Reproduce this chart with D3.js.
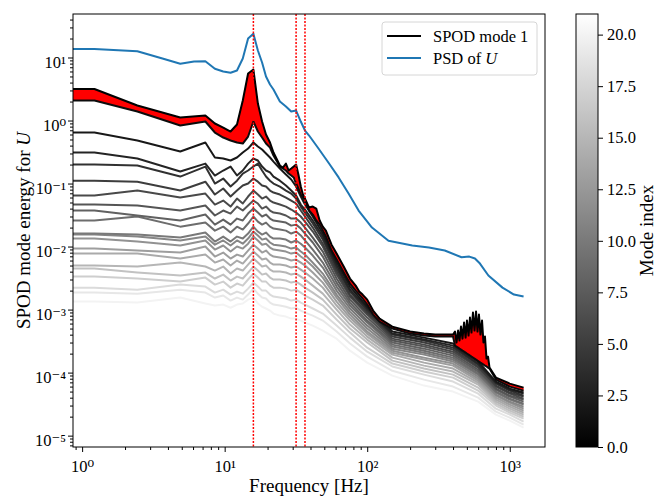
<!DOCTYPE html>
<html>
<head>
<meta charset="utf-8">
<script src="https://cdn.jsdelivr.net/npm/d3@7"></script>
<style>
  body { margin: 0; background: white; }
  svg { display: block; }
</style>
</head>
<body>
<svg></svg>
<script>
// Frequencies (Hz) shared by modes 2..20; 0 is the mean bin
const freqGrid = [0, 1.22, 2.44, 4.88, 7.32, 8.54, 9.77, 11.0, 12.2, 13.4, 14.6, 15.9, 17.1, 18.3, 19.5, 20.8, 22.0, 24.4, 26.9, 29.3, 31.7, 34.2, 36.6, 41.5, 48.8, 61.0, 75.7, 100, 150, 250, 400, 600, 800, 1000, 1250]

// Frequencies (Hz) for the two leading modes (denser, they carry the peaks)
const freqTop = [0, 1.22, 2.44, 4.88, 7.32, 8.54, 9.77, 11.0, 12.2, 13.4, 14.6, 15.9, 17.1, 18.3, 19.5, 20.8, 22.0, 24.4, 25.6, 26.9, 28.1, 29.3, 30.5, 31.7, 32.9, 34.2, 35.4, 36.6, 39.1, 41.5, 43.9, 46.4, 48.8, 51.3, 56.2, 61.0, 68.4, 75.7, 83.0, 87.9, 92.8, 100, 110, 122, 150, 200, 250, 300, 350, 400, 413, 423, 434, 444, 455, 466, 478, 490, 501, 514, 526, 539, 552, 566, 580, 594, 608, 623, 639, 654, 670, 687, 704, 721, 800, 1000, 1250]

const mode0 = [3.16, 3.16, 1.73, 1.12, 1.2, 0.896, 0.774, 0.669, 0.864, 2.08, 5.57, 6.45, 1.86, 0.964, 0.6, 0.448, 0.311, 0.193, 0.179, 0.207, 0.161, 0.173, 0.186, 0.2, 0.139, 0.0896, 0.0669, 0.0578, 0.0416, 0.0431, 0.0401, 0.0259, 0.0207, 0.0179, 0.0107, 7.74e-3, 4.82e-3, 3.11e-3, 2.4e-3, 1.93e-3, 1.73e-3, 1.44e-3, 9.64e-4, 7.2e-4, 5.37e-4, 4.48e-4, 4.16e-4, 4.01e-4, 4.01e-4, 4.01e-4,
    4.48e-4, 3.0e-4, 4.64e-4, 3.22e-4, 5.37e-4, 3.46e-4, 6.22e-4, 3.59e-4, 6.69e-4, 3.87e-4, 7.46e-4, 4.31e-4, 8.96e-4, 4.64e-4, 9.29e-4, 4.48e-4, 8.33e-4, 4.01e-4, 6.69e-4, 3.0e-4, 3.73e-4, 1.67e-4, 1.79e-4, 1.2e-4,
    8.33e-5, 6.69e-5, 5.78e-5]
const mode1 = [2.08, 2.08, 1.39, 0.833, 0.964, 0.645, 0.537, 0.482, 0.448, 0.431, 0.557, 0.964, 0.669, 0.537, 0.431, 0.373, 0.278, 0.186, 0.173, 0.161, 0.144, 0.134, 0.125, 0.1, 0.0833, 0.0669, 0.06, 0.0537, 0.0373, 0.0322, 0.0259, 0.0223, 0.0179, 0.0144, 8.64e-3, 6.22e-3, 3.87e-3, 2.59e-3, 2.0e-3, 1.73e-3, 1.5e-3, 1.2e-3, 8.33e-4, 6.45e-4, 5.0e-4, 4.16e-4, 3.87e-4, 3.73e-4, 3.73e-4, 3.73e-4,
    2.68e-4, 2.59e-4, 2.49e-4, 2.4e-4, 2.32e-4, 2.23e-4, 2.15e-4, 2.07e-4, 2.0e-4, 1.93e-4, 1.86e-4, 1.79e-4, 1.73e-4, 1.67e-4, 1.61e-4, 1.55e-4, 1.5e-4, 1.44e-4, 1.39e-4, 1.34e-4, 1.29e-4, 1.25e-4, 1.2e-4, 1.16e-4,
    7.74e-5, 6.0e-5, 5.18e-5]

const mode2 = [6.45e-1, 6.45e-1, 4.82e-1, 3.22e-1, 4.48e-1, 2.59e-1, 2.49e-1, 2.32e-1, 2.59e-1, 3.11e-1, 3.59e-1, 4.48e-1, 3.87e-1, 3.46e-1, 3.0e-1, 2.59e-1, 2.23e-1, 1.73e-1, 1.39e-1, 1.16e-1, 8.96e-2, 6.22e-2, 4.64e-2, 3.0e-2, 1.61e-2, 5.57e-3, 2.32e-3, 1.11e-3, 4.48e-4, 3.59e-4, 2.89e-4, 1.5e-4, 7.2e-5, 5.57e-5, 4.82e-5]
const mode3 = [3.11e-1, 3.11e-1, 2.49e-1, 1.55e-1, 2.07e-1, 1.34e-1, 1.61e-1, 1.86e-1, 1.34e-1, 1.61e-1, 2.07e-1, 2.49e-1, 2.32e-1, 1.86e-1, 1.61e-1, 1.5e-1, 1.29e-1, 1.11e-1, 9.29e-2, 7.74e-2, 6.45e-2, 4.64e-2, 3.87e-2, 2.59e-2, 1.44e-2, 5.0e-3, 2.07e-3, 1.04e-3, 4.16e-4, 3.34e-4, 2.68e-4, 1.39e-4, 6.94e-5, 5.37e-5, 4.64e-5]
const mode4 = [2.0e-1, 2.0e-1, 1.93e-1, 1.29e-1, 1.86e-1, 1.0e-1, 1.2e-1, 8.96e-2, 1.11e-1, 1.44e-1, 1.61e-1, 1.86e-1, 2.07e-1, 1.61e-1, 1.29e-1, 1.11e-1, 1.0e-1, 8.96e-2, 7.74e-2, 6.94e-2, 5.78e-2, 4.31e-2, 3.46e-2, 2.32e-2, 1.29e-2, 4.48e-3, 1.93e-3, 9.64e-4, 4.01e-4, 3.22e-4, 2.49e-4, 1.34e-4, 6.69e-5, 5.18e-5, 4.31e-5]
const mode5 = [1.11e-1, 1.11e-1, 1.07e-1, 7.74e-2, 1.07e-1, 6.69e-2, 8.33e-2, 6.22e-2, 7.74e-2, 9.29e-2, 1.0e-1, 1.2e-1, 1.07e-1, 9.29e-2, 8.96e-2, 7.74e-2, 7.2e-2, 6.69e-2, 6.0e-2, 5.37e-2, 4.82e-2, 3.73e-2, 3.0e-2, 2.0e-2, 1.11e-2, 4.01e-3, 1.73e-3, 8.96e-4, 3.73e-4, 3.0e-4, 2.32e-4, 1.25e-4, 6.22e-5, 4.82e-5, 4.16e-5]
const mode6 = [6.45e-2, 6.45e-2, 7.74e-2, 6.0e-2, 6.94e-2, 4.64e-2, 5.37e-2, 4.31e-2, 5.78e-2, 4.82e-2, 6.22e-2, 7.74e-2, 6.69e-2, 5.78e-2, 6.22e-2, 5.37e-2, 5.0e-2, 4.64e-2, 4.31e-2, 3.87e-2, 3.46e-2, 3.0e-2, 2.49e-2, 1.73e-2, 1.0e-2, 3.59e-3, 1.61e-3, 8.33e-4, 3.46e-4, 2.78e-4, 2.15e-4, 1.2e-4, 6.0e-5, 4.64e-5, 3.87e-5]
const mode7 = [4.64e-2, 4.64e-2, 4.48e-2, 3.73e-2, 4.48e-2, 3.11e-2, 3.73e-2, 3.34e-2, 4.31e-2, 3.73e-2, 4.48e-2, 5.37e-2, 4.82e-2, 4.01e-2, 4.31e-2, 3.73e-2, 3.46e-2, 3.34e-2, 3.11e-2, 2.78e-2, 2.78e-2, 2.4e-2, 2.0e-2, 1.39e-2, 8.33e-3, 3.11e-3, 1.44e-3, 7.46e-4, 3.22e-4, 2.59e-4, 2.0e-4, 1.11e-4, 5.57e-5, 4.31e-5, 3.73e-5]
const mode8 = [3.73e-2, 3.73e-2, 3.11e-2, 2.59e-2, 3.22e-2, 2.23e-2, 2.68e-2, 2.23e-2, 2.78e-2, 2.59e-2, 3.34e-2, 4.01e-2, 3.46e-2, 3.0e-2, 3.22e-2, 2.78e-2, 2.59e-2, 2.49e-2, 2.4e-2, 2.15e-2, 2.23e-2, 1.93e-2, 1.61e-2, 1.16e-2, 6.94e-3, 2.68e-3, 1.29e-3, 6.69e-4, 3.0e-4, 2.4e-4, 1.86e-4, 1.04e-4, 5.37e-5, 4.16e-5, 3.46e-5]
const mode9 = [2.59e-2, 2.59e-2, 3.0e-2, 2.07e-2, 2.4e-2, 1.79e-2, 2.07e-2, 1.67e-2, 2.07e-2, 1.86e-2, 2.32e-2, 3.0e-2, 2.49e-2, 2.23e-2, 2.4e-2, 2.07e-2, 1.93e-2, 1.86e-2, 1.79e-2, 1.61e-2, 1.73e-2, 1.5e-2, 1.25e-2, 8.96e-3, 5.57e-3, 2.32e-3, 1.16e-3, 6.22e-4, 2.78e-4, 2.23e-4, 1.73e-4, 9.64e-5, 5.0e-5, 3.87e-5, 3.22e-5]
const mode10 = [1.61e-2, 1.61e-2, 1.55e-2, 1.39e-2, 1.67e-2, 1.2e-2, 1.44e-2, 1.2e-2, 1.44e-2, 1.34e-2, 1.61e-2, 2.07e-2, 1.73e-2, 1.55e-2, 1.67e-2, 1.44e-2, 1.34e-2, 1.34e-2, 1.29e-2, 1.16e-2, 1.25e-2, 1.11e-2, 9.64e-3, 7.2e-3, 4.64e-3, 2.0e-3, 1.04e-3, 5.57e-4, 2.59e-4, 2.07e-4, 1.61e-4, 9.29e-5, 4.82e-5, 3.73e-5, 3.11e-5]
const mode11 = [1.55e-2, 1.55e-2, 1.44e-2, 1.25e-2, 1.44e-2, 1.07e-2, 1.25e-2, 1.04e-2, 1.25e-2, 1.11e-2, 1.34e-2, 1.73e-2, 1.5e-2, 1.29e-2, 1.34e-2, 1.16e-2, 1.07e-2, 1.04e-2, 1.0e-2, 9.29e-3, 9.64e-3, 8.33e-3, 7.46e-3, 5.57e-3, 3.73e-3, 1.73e-3, 9.29e-4, 5.0e-4, 2.4e-4, 1.93e-4, 1.5e-4, 8.64e-5, 4.48e-5, 3.46e-5, 2.89e-5]
const mode12 = [1.34e-2, 1.34e-2, 1.2e-2, 1.04e-2, 1.25e-2, 8.96e-3, 1.04e-2, 8.33e-3, 1.0e-2, 9.29e-3, 1.11e-2, 1.44e-2, 1.25e-2, 1.07e-2, 1.11e-2, 9.64e-3, 8.96e-3, 8.64e-3, 8.33e-3, 7.74e-3, 8.03e-3, 6.94e-3, 6.22e-3, 4.82e-3, 3.22e-3, 1.55e-3, 8.33e-4, 4.48e-4, 2.23e-4, 1.73e-4, 1.39e-4, 8.03e-5, 4.31e-5, 3.34e-5, 2.68e-5]
const mode13 = [9.29e-3, 9.29e-3, 8.64e-3, 8.03e-3, 1.0e-2, 6.94e-3, 8.03e-3, 6.45e-3, 7.46e-3, 6.94e-3, 8.64e-3, 1.07e-2, 9.29e-3, 8.03e-3, 8.64e-3, 7.46e-3, 6.94e-3, 6.69e-3, 6.45e-3, 6.0e-3, 6.22e-3, 5.57e-3, 5.0e-3, 3.87e-3, 2.68e-3, 1.34e-3, 7.46e-4, 4.16e-4, 2.07e-4, 1.61e-4, 1.29e-4, 7.46e-5, 4.01e-5, 3.11e-5, 2.49e-5]
const mode14 = [7.74e-3, 7.74e-3, 7.74e-3, 6.45e-3, 7.46e-3, 5.57e-3, 6.22e-3, 5.0e-3, 6.0e-3, 5.37e-3, 6.69e-3, 8.33e-3, 7.2e-3, 6.22e-3, 6.45e-3, 5.57e-3, 5.18e-3, 5.18e-3, 5.0e-3, 4.64e-3, 4.82e-3, 4.31e-3, 3.87e-3, 3.11e-3, 2.23e-3, 1.16e-3, 6.69e-4, 3.73e-4, 1.93e-4, 1.44e-4, 1.16e-4, 6.94e-5, 3.73e-5, 2.89e-5, 2.32e-5]
const mode15 = [5.0e-3, 5.0e-3, 4.82e-3, 5.57e-3, 4.82e-3, 4.16e-3, 4.82e-3, 3.73e-3, 4.48e-3, 4.16e-3, 5.18e-3, 6.45e-3, 5.57e-3, 4.82e-3, 5.0e-3, 4.31e-3, 4.01e-3, 4.01e-3, 3.87e-3, 3.59e-3, 3.73e-3, 3.34e-3, 3.0e-3, 2.4e-3, 1.79e-3, 1.0e-3, 5.78e-4, 3.34e-4, 1.73e-4, 1.29e-4, 1.04e-4, 6.45e-5, 3.46e-5, 2.68e-5, 2.15e-5]
const mode16 = [4.48e-3, 4.48e-3, 3.87e-3, 3.46e-3, 3.87e-3, 3.11e-3, 3.59e-3, 2.89e-3, 3.34e-3, 3.11e-3, 3.87e-3, 4.82e-3, 4.16e-3, 3.59e-3, 3.73e-3, 3.22e-3, 3.0e-3, 3.0e-3, 2.89e-3, 2.68e-3, 2.78e-3, 2.49e-3, 2.23e-3, 1.86e-3, 1.44e-3, 8.33e-4, 5.0e-4, 3.0e-4, 1.55e-4, 1.16e-4, 9.29e-5, 5.78e-5, 3.22e-5, 2.49e-5, 2.0e-5]
const mode17 = [3.34e-3, 3.34e-3, 3.11e-3, 2.78e-3, 3.22e-3, 2.49e-3, 2.78e-3, 2.23e-3, 2.59e-3, 2.4e-3, 3.0e-3, 3.73e-3, 3.22e-3, 2.78e-3, 2.78e-3, 2.4e-3, 2.23e-3, 2.23e-3, 2.15e-3, 2.0e-3, 2.07e-3, 1.86e-3, 1.67e-3, 1.44e-3, 1.16e-3, 6.94e-4, 4.31e-4, 2.49e-4, 1.39e-4, 1.04e-4, 8.33e-5, 5.18e-5, 3.0e-5, 2.32e-5, 1.86e-5]
const mode18 = [2.23e-3, 2.23e-3, 2.07e-3, 2.49e-3, 2.32e-3, 1.86e-3, 2.07e-3, 1.73e-3, 1.93e-3, 1.79e-3, 2.15e-3, 2.68e-3, 2.32e-3, 2.0e-3, 2.0e-3, 1.73e-3, 1.61e-3, 1.55e-3, 1.5e-3, 1.39e-3, 1.44e-3, 1.29e-3, 1.2e-3, 1.04e-3, 8.64e-4, 5.57e-4, 3.59e-4, 2.15e-4, 1.25e-4, 9.29e-5, 7.2e-5, 4.64e-5, 2.68e-5, 2.15e-5, 1.67e-5]
const mode19 = [1.86e-3, 1.86e-3, 1.79e-3, 2.07e-3, 1.86e-3, 1.55e-3, 1.67e-3, 1.39e-3, 1.55e-3, 1.44e-3, 1.73e-3, 2.15e-3, 1.79e-3, 1.55e-3, 1.5e-3, 1.29e-3, 1.2e-3, 1.16e-3, 1.11e-3, 1.04e-3, 1.07e-3, 9.64e-4, 8.96e-4, 8.03e-4, 6.69e-4, 4.48e-4, 2.89e-4, 1.79e-4, 1.07e-4, 7.74e-5, 6.0e-5, 4.01e-5, 2.4e-5, 1.93e-5, 1.5e-5]
const mode20 = [1.34e-3, 1.34e-3, 1.29e-3, 1.55e-3, 1.25e-3, 1.16e-3, 1.2e-3, 1.07e-3, 1.2e-3, 1.25e-3, 1.44e-3, 1.55e-3, 1.25e-3, 1.11e-3, 1.04e-3, 9.64e-4, 8.64e-4, 8.03e-4, 7.74e-4, 7.2e-4, 7.2e-4, 6.69e-4, 6.22e-4, 5.57e-4, 4.64e-4, 3.46e-4, 2.23e-4, 1.44e-4, 8.96e-5, 6.22e-5, 5.0e-5, 3.46e-5, 2.15e-5, 1.73e-5, 1.34e-5]

// PSD of U
const freqPsd = [0, 1.22, 2.44, 3.66, 4.88, 6.10, 7.32, 8.54, 9.77, 11.0, 12.2, 13.4, 14.6, 15.9, 17.1, 18.3, 19.5, 20.8, 22.0, 24.4, 26.9, 29.3, 31.7, 34.2, 36.6, 39.1, 45.0, 54.0, 63.0, 74.0, 87.0, 108, 141, 207, 271, 350, 459, 520, 570, 618, 708, 889, 1070, 1250]
const psdU = [13.7, 13.7, 12.6, 9.64, 7.94, 8.64, 8.74, 6.62, 6.0, 5.72, 6.22, 9.64, 20.0, 23.8, 12.9, 8.33, 4.99, 3.73, 3.1, 2.0, 1.67, 1.39, 1.44, 0.964, 0.694, 0.578, 0.373, 0.208, 0.125, 0.0694, 0.0373, 0.02, 0.0124, 0.0104, 0.00964, 0.00865, 0.00676, 0.00693, 0.00645, 0.00537, 0.00347, 0.00223, 0.00173, 0.00161]

// marked frequencies (red dotted lines)
const markFreqs = [15.9, 31.7, 36.6]

// axes ticks
const xMajor = [1, 10, 100, 1000]
const yMajor = [1e-5, 1e-4, 1e-3, 1e-2, 1e-1, 1, 10]
const cbTicks = [0, 2.5, 5, 7.5, 10, 12.5, 15, 17.5, 20]

const width = 657
const height = 501
const serif = '"Liberation Serif", "DejaVu Serif", serif'

const svg = d3.select("svg")
    .attr("width", width)
    .attr("height", height)
    .attr("font-family", serif)

const margin = { top: 14, right: 112, bottom: 54, left: 73 }
const innerWidth = width - margin.left - margin.right
const innerHeight = height - margin.top - margin.bottom

// Scales
const xScale = d3.scaleLog().domain([0.863, 1767]).range([0, innerWidth])
const yScale = d3.scaleLog().domain([6.6e-6, 49]).range([innerHeight, 0])
const colorScale = d3.scaleLinear().domain([0, 21]).range(["#000000", "#ffffff"])

// zero frequency goes off to the left, like matplotlib clipping it
const xPos = f => f > 0 ? xScale(f) : -3

const g = svg.append("g")
    .attr("transform", `translate(${margin.left}, ${margin.top})`)

const defs = svg.append("defs")
defs.append("clipPath").attr("id", "clip")
    .append("rect").attr("width", innerWidth).attr("height", innerHeight)

const plot = g.append("g").attr("clip-path", "url(#clip)")

const lineFor = freqs => d3.line()
    .x((d, i) => xPos(freqs[i]))
    .y(d => yScale(d))

// Gray modes, lightest first so dark ones stay on top
const grayModes = [mode2, mode3, mode4, mode5, mode6, mode7, mode8, mode9, mode10, mode11,
    mode12, mode13, mode14, mode15, mode16, mode17, mode18, mode19, mode20]
const grayData = grayModes.map((vals, i) => ({ index: i + 2, vals })).reverse()

plot.selectAll("path.mode").data(grayData)
    .enter()
    .append("path")
    .attr("class", "mode")
    .attr("d", d => lineFor(freqGrid)(d.vals))
    .attr("fill", "none")
    .attr("stroke", d => colorScale(d.index))
    .attr("stroke-width", 2)
    .attr("stroke-linejoin", "round")

// red band between the first two modes
const band = d3.area()
    .x((d, i) => xPos(freqTop[i]))
    .y0((d, i) => yScale(mode1[i]))
    .y1(d => yScale(d))

plot.append("path")
    .attr("d", band(mode0))
    .attr("fill", "#ff0000")

plot.append("path")
    .attr("d", lineFor(freqTop)(mode1))
    .attr("fill", "none")
    .attr("stroke", colorScale(1))
    .attr("stroke-width", 2)
    .attr("stroke-linejoin", "round")

plot.append("path")
    .attr("d", lineFor(freqTop)(mode0))
    .attr("fill", "none")
    .attr("stroke", colorScale(0))
    .attr("stroke-width", 2)
    .attr("stroke-linejoin", "round")

plot.append("path")
    .attr("d", lineFor(freqPsd)(psdU))
    .attr("fill", "none")
    .attr("stroke", "#1f77b4")
    .attr("stroke-width", 2)
    .attr("stroke-linejoin", "round")

// dotted red markers, on top of everything in the plot
const marks = g.append("g").attr("clip-path", "url(#clip)")
marks.selectAll("line").data(markFreqs)
    .enter()
    .append("line")
    .attr("x1", d => xScale(d))
    .attr("x2", d => xScale(d))
    .attr("y1", 0)
    .attr("y2", innerHeight)
    .attr("stroke", "#ff0000")
    .attr("stroke-width", 1.5)
    .attr("stroke-dasharray", "2,1.5")

// Axes: major + minor ticks
const minorOf = (lo, hi, e0, e1) => d3.range(e0, e1 + 1)
    .flatMap(e => d3.range(2, 10).map(m => m * Math.pow(10, e)))
    .filter(v => v >= lo && v <= hi)

const xMinor = minorOf(0.863, 1767, -1, 3)
const yMinor = minorOf(6.6e-6, 49, -6, 1)

// power-of-ten label as one string with superscript digits
const supDigits = { "0": "\u2070", "1": "\u00b9", "2": "\u00b2", "3": "\u00b3", "4": "\u2074", "5": "\u2075", "6": "\u2076", "7": "\u2077", "8": "\u2078", "9": "\u2079", "-": "\u207b" }
const powFormat = v => "10" + String(Math.round(Math.log10(v))).split("").map(c => supDigits[c]).join("")

const styleAxis = sel => {
    sel.select(".domain").remove()
    sel.selectAll(".tick line").attr("stroke", "#000").attr("stroke-width", 1)
    sel.attr("font-family", serif).attr("font-size", 16.5)
    sel.selectAll(".tick text").attr("fill", "#000")
}

g.append("g").attr("transform", `translate(0, ${innerHeight})`)
    .call(d3.axisBottom(xScale).tickValues(xMajor).tickSize(5).tickPadding(8).tickFormat(powFormat))
    .call(styleAxis)
g.append("g").attr("transform", `translate(0, ${innerHeight})`)
    .call(d3.axisBottom(xScale).tickValues(xMinor).tickSize(3).tickFormat(""))
    .call(styleAxis)
g.append("g")
    .call(d3.axisLeft(yScale).tickValues(yMajor).tickSize(5).tickPadding(2).tickFormat(powFormat))
    .call(styleAxis)
    .selectAll(".tick text").attr("dy", "0.6em")
g.append("g")
    .call(d3.axisLeft(yScale).tickValues(yMinor).tickSize(3).tickFormat(""))
    .call(styleAxis)

// frame
g.append("rect")
    .attr("width", innerWidth)
    .attr("height", innerHeight)
    .attr("fill", "none")
    .attr("stroke", "#000")
    .attr("stroke-width", 1)

// axis titles
g.append("text")
    .attr("x", innerWidth / 2)
    .attr("y", innerHeight + 45)
    .attr("text-anchor", "middle")
    .attr("font-size", 19)
    .text("Frequency [Hz]")

const yTitle = svg.append("text")
    .attr("transform", `translate(30, ${margin.top + innerHeight / 2}) rotate(-90)`)
    .attr("text-anchor", "middle")
    .attr("font-size", 19)
yTitle.append("tspan").text("SPOD mode energy for ")
yTitle.append("tspan").attr("font-style", "italic").text("U")

// Legend
const legend = svg.append("g").attr("transform", "translate(382, 22)")
legend.append("rect")
    .attr("width", 155)
    .attr("height", 53)
    .attr("rx", 3)
    .attr("fill", "#fff")
    .attr("fill-opacity", 0.8)
    .attr("stroke", "#d6d6d6")
    .attr("stroke-width", 1)

const legendColors = [colorScale(0), "#1f77b4"]
legendColors.forEach((c, i) => {
    const yy = 14 + i * 22
    legend.append("line")
        .attr("x1", 5).attr("x2", 39)
        .attr("y1", yy).attr("y2", yy)
        .attr("stroke", c)
        .attr("stroke-width", 2)
})
legend.append("text")
    .attr("x", 51)
    .attr("y", 19.5)
    .attr("font-size", 16.5)
    .text("SPOD mode 1")
const psdText = legend.append("text")
    .attr("x", 51)
    .attr("y", 41.5)
    .attr("font-size", 16.5)
psdText.append("tspan").text("PSD of ")
psdText.append("tspan").attr("font-style", "italic").text("U")

// Colorbar
const cbX = 576
const cbWidth = 22
const cbScale = d3.scaleLinear().domain([0, 21]).range([innerHeight, 0])

const grad = defs.append("linearGradient")
    .attr("id", "cbgrad")
    .attr("x1", 0).attr("y1", 1).attr("x2", 0).attr("y2", 0)
grad.append("stop").attr("offset", 0).attr("stop-color", colorScale(0))
grad.append("stop").attr("offset", 1).attr("stop-color", colorScale(21))

const cb = svg.append("g").attr("transform", `translate(${cbX}, ${margin.top})`)
cb.append("rect")
    .attr("width", cbWidth)
    .attr("height", innerHeight)
    .attr("fill", "url(#cbgrad)")

cb.append("g")
    .attr("transform", `translate(${cbWidth}, 0)`)
    .call(d3.axisRight(cbScale).tickValues(cbTicks).tickSize(5).tickPadding(4).tickFormat(d3.format(".1f")))
    .call(styleAxis)

cb.append("rect")
    .attr("width", cbWidth)
    .attr("height", innerHeight)
    .attr("fill", "none")
    .attr("stroke", "#000")
    .attr("stroke-width", 1)

svg.append("text")
    .attr("transform", `translate(653, ${margin.top + innerHeight / 2}) rotate(-90)`)
    .attr("text-anchor", "middle")
    .attr("font-size", 19)
    .text("Mode index")
</script>
</body>
</html>
